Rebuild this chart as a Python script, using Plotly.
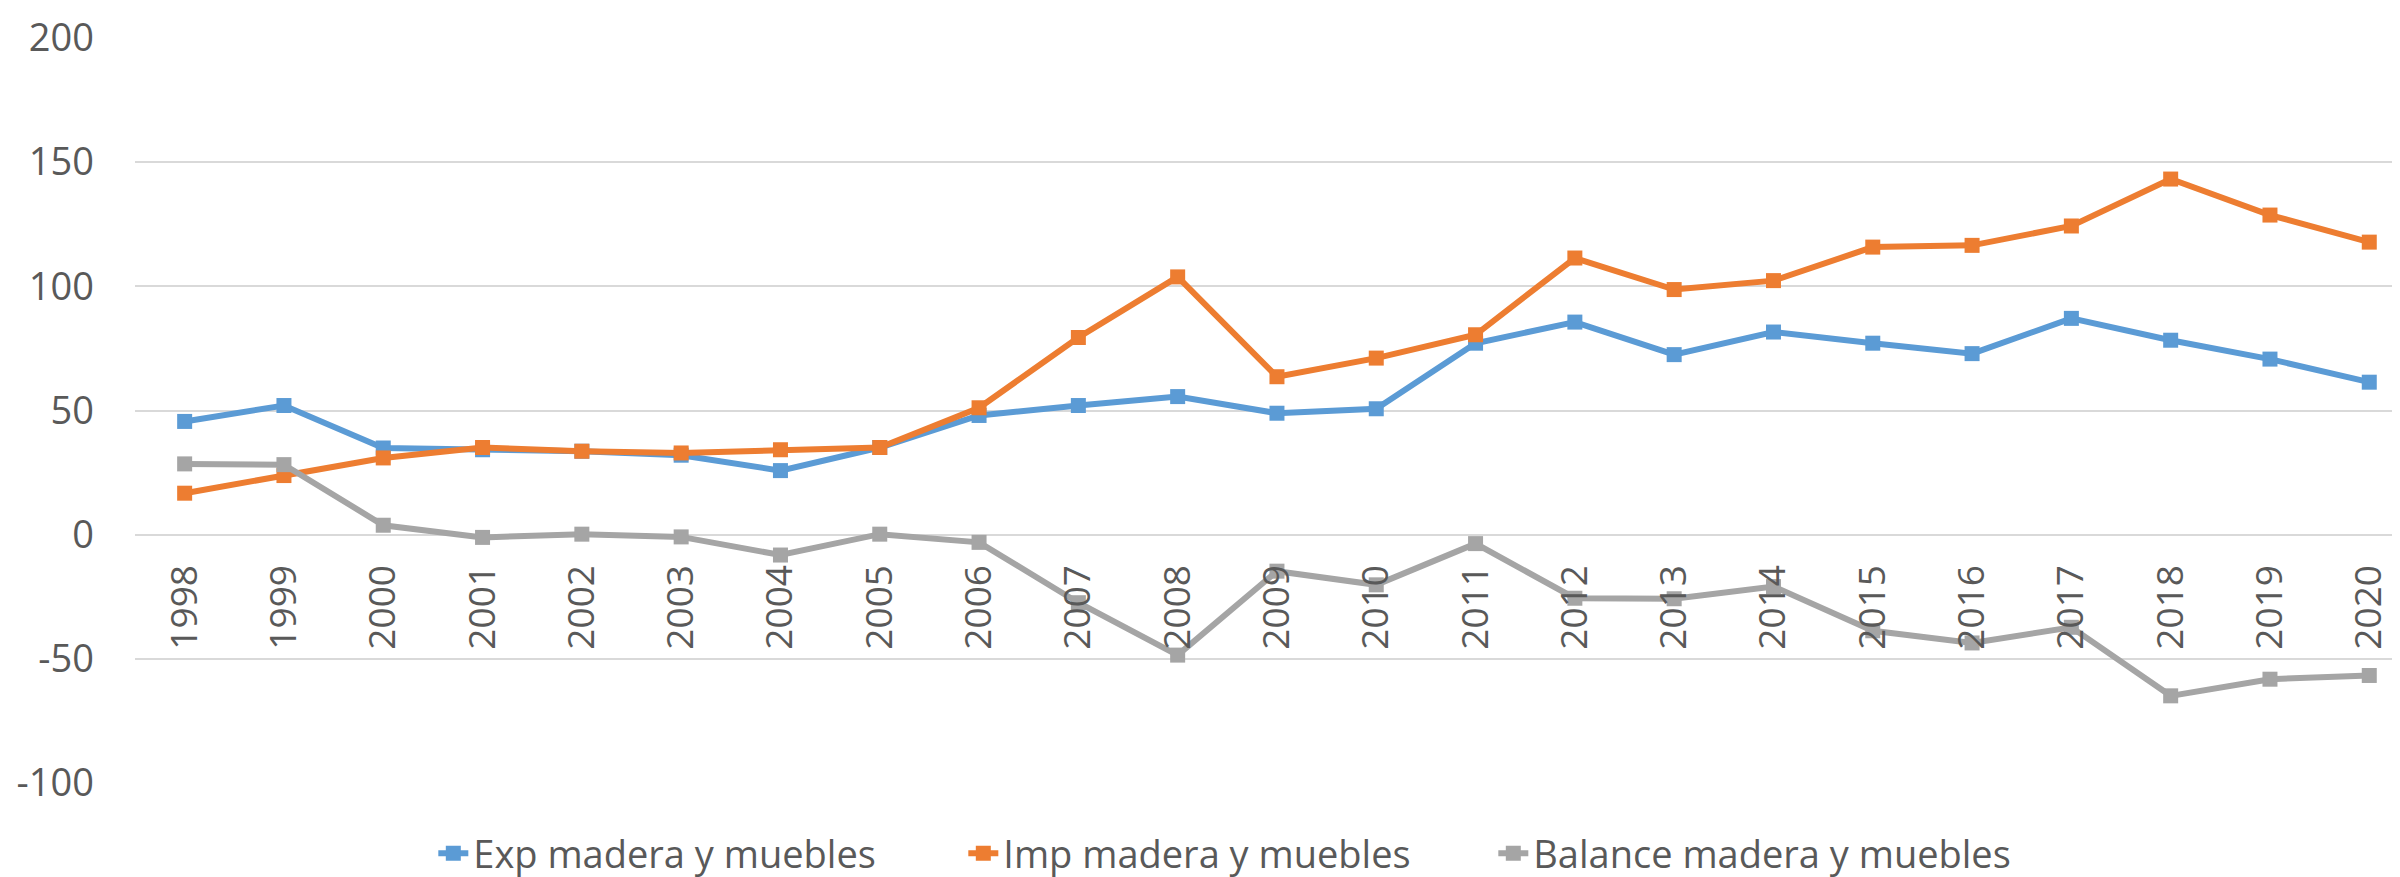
import plotly.graph_objects as go

years = [str(y) for y in range(1998, 2021)]
exp_vals = [45.6, 52.0, 34.9, 34.2, 33.6, 32.0, 25.8, 35.1, 48.0, 52.0, 55.6, 48.9,
            50.7, 77.1, 85.6, 72.5, 81.6, 77.1, 72.9, 87.1, 78.3, 70.7, 61.4]
imp_vals = [16.7, 23.8, 30.9, 35.1, 33.6, 32.9, 34.2, 35.1, 51.1, 79.4, 103.8, 63.6,
            71.1, 80.5, 111.4, 98.7, 102.3, 115.8, 116.5, 124.3, 143.2, 128.7, 117.8]
bal_vals = [28.5, 28.2, 3.8, -1.1, 0.2, -0.9, -8.2, 0.2, -3.1, -27.4, -48.5, -14.7,
            -20.2, -3.6, -25.6, -25.8, -20.9, -38.7, -43.6, -37.3, -64.9, -58.2, -56.7]
names = ["Exp madera y muebles", "Imp madera y muebles", "Balance madera y muebles"]
colors = ["#5B9BD5", "#ED7D31", "#A5A5A5"]
y_ticks = [-100, -50, 0, 50, 100, 150, 200]

FONT = "Open Sans"
TXT = "#595959"

fig = go.Figure()
for vals, name, col in zip([exp_vals, imp_vals, bal_vals], names, colors):
    fig.add_trace(go.Scatter(
        x=list(range(len(years))), y=vals, name=name, mode="lines+markers",
        line=dict(color=col, width=6),
        marker=dict(symbol="square", size=15, color=col),
    ))

fig.update_layout(
    width=2400, height=877,
    margin=dict(l=127, r=0, t=30, b=92),
    paper_bgcolor="white", plot_bgcolor="white",
    font=dict(family=FONT, color=TXT, size=37),
    showlegend=True,
    legend=dict(orientation="h", x=0.481, xanchor="center", y=-0.095, yanchor="middle",
                font=dict(size=38, color=TXT, family=FONT),
                entrywidth=485, entrywidthmode="pixels",
                bgcolor="rgba(0,0,0,0)"),
)
fig.update_xaxes(
    range=[-0.5, 22.39], tickmode="array", tickvals=list(range(len(years))), ticktext=years,
    tickangle=-90, showgrid=False, zeroline=False, showline=False, ticks="",
    anchor="free", position=1/3, ticklabelstandoff=22,
    tickfont=dict(size=37, color=TXT, family=FONT),
)
fig.update_yaxes(
    range=[-100, 200], tickmode="array", tickvals=y_ticks, ticktext=[str(v) for v in y_ticks],
    showgrid=True, gridcolor="#D9D9D9", gridwidth=2, zeroline=False, showline=False,
    ticks="", ticklabelstandoff=40,
    tickfont=dict(size=38, color=TXT, family=FONT),
)

fig.write_html("out.html")
